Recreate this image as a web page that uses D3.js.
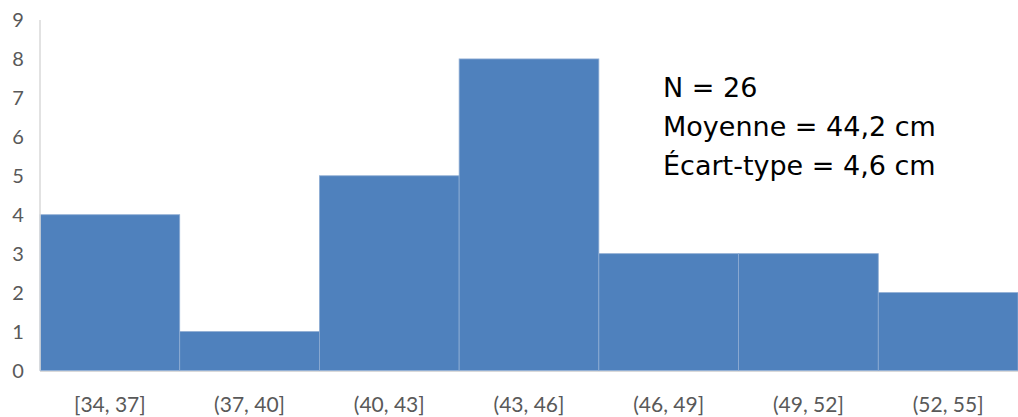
<!DOCTYPE html>
<html>
<head>
<meta charset="utf-8">
<script src="https://cdn.jsdelivr.net/npm/d3@7"></script>
<style>
  body { margin: 0; background: #fff; }
  svg { display: block; }
</style>
</head>
<body>
<div id="chart"></div>
<script>
// data
const bins = ["[34, 37]", "(37, 40]", "(40, 43]", "(43, 46]", "(46, 49]", "(49, 52]", "(52, 55]"];
const counts = [4, 1, 5, 8, 3, 3, 2];
const yTicks = [0, 1, 2, 3, 4, 5, 6, 7, 8, 9];
const statLines = ["N = 26", "Moyenne = 44,2 cm", "Écart-type = 4,6 cm"];

const W = 1018, H = 417;
const margin = { top: 20, right: 0, bottom: 46, left: 40 };

const svg = d3.select("#chart").append("svg")
  .attr("width", W)
  .attr("height", H);

const x = d3.scaleBand()
  .domain(bins)
  .range([margin.left, W - margin.right])
  .padding(0);

const y = d3.scaleLinear()
  .domain([0, 9])
  .range([H - margin.bottom - 0.5, margin.top]);

// bars
svg.append("g")
  .selectAll("rect")
  .data(counts)
  .join("rect")
  .attr("x", (d, i) => x(bins[i]))
  .attr("y", d => y(d))
  .attr("width", x.bandwidth())
  .attr("height", d => y(0) - y(d))
  .attr("fill", "#4f81bd")
  .attr("stroke", "#8eacd3")
  .attr("stroke-width", 0.8);

// y axis line
svg.append("line")
  .attr("x1", margin.left).attr("x2", margin.left)
  .attr("y1", y(9)).attr("y2", y(0))
  .attr("stroke", "#d9d9d9").attr("stroke-width", 1.5);

// baseline
svg.append("line")
  .attr("x1", margin.left).attr("x2", W)
  .attr("y1", y(0) + 1).attr("y2", y(0) + 1)
  .attr("stroke", "#d9d9d9").attr("stroke-width", 1);

// y tick labels
svg.append("g")
  .selectAll("text")
  .data(yTicks)
  .join("text")
  .attr("x", 18)
  .attr("y", d => y(d))
  .attr("dy", "0.36em")
  .attr("text-anchor", "middle")
  .attr("font-family", "Lato, 'Open Sans', sans-serif")
  .attr("font-size", 20)
  .attr("fill", "#595959")
  .text(d => d);

// x tick labels
svg.append("g")
  .selectAll("text")
  .data(bins)
  .join("text")
  .attr("x", d => x(d) + x.bandwidth() / 2)
  .attr("y", 412)
  .attr("text-anchor", "middle")
  .attr("font-family", "Lato, 'Open Sans', sans-serif")
  .attr("font-size", 21)
  .attr("fill", "#595959")
  .text(d => d);

// stats annotation
svg.append("g")
  .selectAll("text")
  .data(statLines)
  .join("text")
  .attr("x", 663)
  .attr("y", (d, i) => 97 + i * 39)
  .attr("font-family", "'DejaVu Sans', sans-serif")
  .attr("font-size", 27)
  .attr("fill", "#000")
  .text(d => d);
</script>
</body>
</html>
